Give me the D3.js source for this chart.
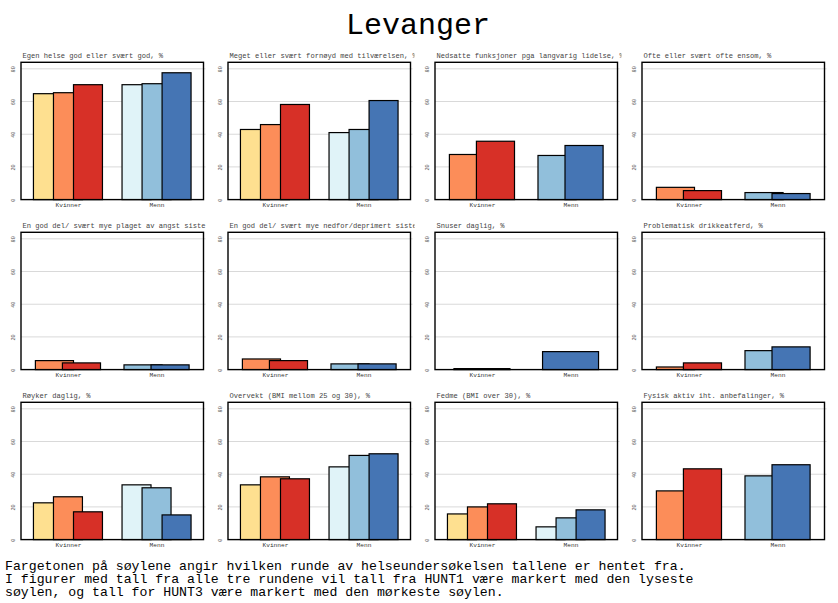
<!DOCTYPE html>
<html><head><meta charset="utf-8">
<script src="https://cdn.jsdelivr.net/npm/d3@7"></script>
<style>body{margin:0;background:#fff}svg{display:block}</style>
</head><body>
<div id="chart"></div>
<script>
// ---- data ----
const mainTitle = "Levanger";
const categories = ["Kvinner", "Menn"];
const rounds = ["HUNT1", "HUNT2", "HUNT3"];
const yTicks = [0, 20, 40, 60, 80];
const panelTitles = [
  "Egen helse god eller svært god, %",
  "Meget eller svært fornøyd med tilværelsen, %",
  "Nedsatte funksjoner pga langvarig lidelse, %",
  "Ofte eller svært ofte ensom, %",
  "En god del/ svært mye plaget av angst siste 2 uker, %",
  "En god del/ svært mye nedfor/deprimert siste 2 uker, %",
  "Snuser daglig, %",
  "Problematisk drikkeatferd, %",
  "Røyker daglig, %",
  "Overvekt (BMI mellom 25 og 30), %",
  "Fedme (BMI over 30), %",
  "Fysisk aktiv iht. anbefalinger, %"
];
// values per panel: [HUNT1, HUNT2, HUNT3], null = not measured
const kvinnerValues = [
  [64.8, 65.4, 70.3],
  [42.9, 45.9, 58.2],
  [null, 27.6, 35.7],
  [null, 7.5, 5.5],
  [null, 5.5, 4.1],
  [null, 6.5, 5.5],
  [null, null, 0.6],
  [null, 1.6, 4.1],
  [22.5, 26.2, 17.0],
  [33.5, 38.4, 37.2],
  [15.7, 20.0, 21.9],
  [null, 29.8, 43.3]
];
const mennValues = [
  [70.3, 70.9, 77.6],
  [41.0, 42.9, 60.6],
  [null, 27.0, 33.1],
  [null, 4.3, 3.7],
  [null, 2.9, 2.9],
  [null, 3.5, 3.5],
  [null, null, 11.0],
  [null, 11.6, 13.9],
  [33.5, 31.7, 15.1],
  [44.5, 51.5, 52.5],
  [7.8, 13.3, 18.2],
  [null, 39.0, 45.8]
];
const colors = {
  Kvinner: ["#FEE090", "#FC8D59", "#D73027"],
  Menn: ["#E0F3F8", "#91BFDB", "#4575B4"]
};
const footerLines = [
  "Fargetonen på søylene angir hvilken runde av helseundersøkelsen tallene er hentet fra.",
  "I figurer med tall fra alle tre rundene vil tall fra HUNT1 være markert med den lyseste",
  "søylen, og tall for HUNT3 være markert med den mørkeste søylen."
];

// ---- layout ----
const W = 838, H = 603;
const FONT = "'Courier New', 'Liberation Mono', monospace";
const panelW = 182.5, panelH = 137.3;
const colStep = 207, rowStep = 170;
const left0 = 21, top0 = 62.3;
// bar width / dodge offset as fraction of category step, by number of bars present
const barWidthFrac = {1: 0.632, 2: 0.43, 3: 0.327};
const barOffsetFrac = {1: 0, 2: 0.305, 3: 0.226};

const svg = d3.select("#chart").append("svg")
  .attr("width", W).attr("height", H)
  .attr("font-family", FONT);

svg.append("text")
  .attr("x", 418).attr("y", 34)
  .attr("text-anchor", "middle")
  .attr("font-size", 30)
  .attr("fill", "#000")
  .text(mainTitle);

const defs = svg.append("defs");

panelTitles.forEach((title, i) => {
  const col = i % 4, row = Math.floor(i / 4);
  const x0 = left0 + col * colStep, y0 = top0 + row * rowStep;
  const g = svg.append("g").attr("transform", `translate(${x0},${y0})`);

  const x = d3.scalePoint().domain(categories).range([0, panelW]).padding(0.53);
  const y = d3.scaleLinear().domain([0, 84]).range([panelH, 0]);
  const step = x.step();

  // clip for title
  const clipRight = panelW + 4;
  defs.append("clipPath").attr("id", "tc" + i)
    .append("rect").attr("x", -20).attr("y", -20).attr("width", clipRight + 20).attr("height", 30);

  const tt = g.append("text")
    .attr("clip-path", `url(#tc${i})`)
    .attr("x", 1.5).attr("y", -4.5)
    .attr("font-size", 7.1)
    .attr("fill", "#444")
    .text(title);
  // drop characters that lie entirely beyond the clip edge
  let s = title;
  const node = tt.node();
  while (s.length > 1 && node.getSubStringLength(0, s.length - 1) + 1.5 > clipRight) {
    s = s.slice(0, -1);
    tt.text(s);
  }

  // gridlines
  g.append("g").selectAll("line").data(yTicks.filter(t => t > 0)).join("line")
    .attr("x1", 0).attr("x2", panelW + 2)
    .attr("y1", d => y(d)).attr("y2", d => y(d))
    .attr("stroke", "#d9d9d9").attr("stroke-width", 1);

  // y axis labels (rotated)
  const yAxis = d3.axisLeft(y).tickValues(yTicks).tickSize(0).tickPadding(0);
  const ya = g.append("g").call(yAxis);
  ya.select(".domain").remove();
  ya.selectAll(".tick text")
    .attr("transform", "rotate(-90)")
    .attr("x", 0).attr("y", -8)
    .attr("dy", "0.35em")
    .attr("text-anchor", "middle")
    .attr("font-family", FONT)
    .attr("font-size", 5.2)
    .attr("fill", "#555");

  // bars
  const data = [kvinnerValues[i], mennValues[i]];
  categories.forEach((cat, ci) => {
    const vals = data[ci];
    const present = rounds.map((r, ri) => ({r, ri, v: vals[ri]})).filter(d => d.v !== null);
    const n = present.length;
    const bw = barWidthFrac[n] * step, off = barOffsetFrac[n] * step;
    const cx = x(cat);
    g.append("g").selectAll("rect").data(present).join("rect")
      .attr("x", (d, k) => cx + (k - (n - 1) / 2) * off - bw / 2)
      .attr("width", bw)
      .attr("y", d => y(d.v))
      .attr("height", d => y(0) - y(d.v))
      .attr("fill", d => colors[cat][d.ri])
      .attr("stroke", "#000").attr("stroke-width", 1.2);
  });

  // x axis labels
  const xAxis = d3.axisBottom(x).tickSize(0).tickPadding(0);
  const xa = g.append("g").attr("transform", `translate(0,${panelH})`).call(xAxis);
  xa.select(".domain").remove();
  xa.selectAll(".tick text")
    .attr("y", 7.5).attr("dy", 0)
    .attr("font-family", FONT)
    .attr("font-size", 6.2)
    .attr("fill", "#333");

  // frame
  g.append("rect").attr("x", 0).attr("y", 0).attr("width", panelW).attr("height", panelH)
    .attr("fill", "none").attr("stroke", "#000").attr("stroke-width", 1.4);
});

svg.append("g").selectAll("text").data(footerLines).join("text")
  .attr("x", 5).attr("y", (d, i) => 569.5 + i * 13.2)
  .attr("font-size", 13.2)
  .attr("fill", "#000")
  .attr("xml:space", "preserve")
  .text(d => d);
</script>
</body></html>
